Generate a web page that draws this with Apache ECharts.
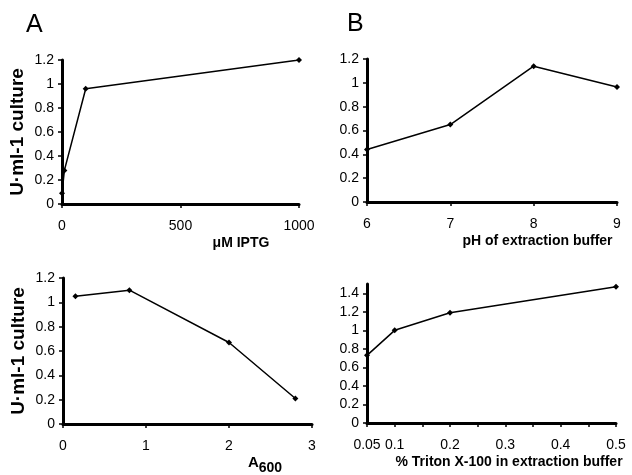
<!DOCTYPE html>
<html>
<head>
<meta charset="utf-8">
<script src="https://cdn.jsdelivr.net/npm/echarts@6/dist/echarts.min.js"></script>
<style>html,body{margin:0;padding:0;background:#fff}#c{width:632px;height:475px}</style>
</head>
<body>
<div id="c"></div>
<script>
// Panel A: IPTG concentration
const iptgX = [0, 10, 100, 1000];
const iptgY = [0.09, 0.28, 0.96, 1.2];
// Panel B: pH
const phX = [6, 7, 8, 9];
const phY = [0.44, 0.65, 1.14, 0.965];
// Panel C: A600
const a600X = [0.15, 0.8, 2.0, 2.8];
const a600Y = [1.05, 1.1, 0.67, 0.21];
// Panel D: Triton X-100
const tritonX = [0.05, 0.1, 0.2, 0.5];
const tritonY = [0.73, 1.0, 1.19, 1.47];
// tick labels
const tritonXLabels = [0.05, 0.1, 0.2, 0.3, 0.4, 0.5];
const tritonXTicks = [0.05, 0.1, 0.15, 0.2, 0.25, 0.3, 0.35, 0.4, 0.45, 0.5];
const tritonYTicks = [0, 0.2, 0.4, 0.6, 0.8, 1.0, 1.2, 1.4];

const FONT = 'Liberation Sans, Arial, sans-serif';
const axisLine = {show: true, onZero: false, lineStyle: {color: '#000', width: 3}};
const axisTick = {show: true, length: 4, lineStyle: {color: '#000', width: 1.5}};
const lab = {color: '#000', fontSize: 14, fontFamily: FONT, formatter: (v) => String(v)};
const nameStyle = (pad) => ({color: '#000', fontSize: 14, fontWeight: 'bold', fontFamily: FONT, padding: [0, 0, 0, pad]});
const yName = 'U·ml-1 culture';
const yNameStyle = {color: '#000', fontSize: 19, fontWeight: 'bold', fontFamily: FONT};

function xAxis(i, min, max, interval, name, pad, extra) {
  return Object.assign({
    type: 'value', gridIndex: i, min: min, max: max, interval: interval,
    axisLine: axisLine, axisTick: axisTick, splitLine: {show: false},
    axisLabel: Object.assign({margin: 15}, lab),
    name: name, nameLocation: 'middle', nameGap: 32, nameTextStyle: nameStyle(pad)
  }, extra || {});
}
function yAxis(i, max, name, extra) {
  return Object.assign({
    type: 'value', gridIndex: i, min: 0, max: max, interval: 0.2,
    axisLine: axisLine, axisTick: axisTick, splitLine: {show: false},
    axisLabel: Object.assign({margin: 8}, lab),
    name: name, nameLocation: 'middle', nameGap: 35, nameTextStyle: yNameStyle
  }, extra || {});
}
function series(i, xs, ys) {
  return {
    type: 'line', xAxisIndex: i, yAxisIndex: i,
    data: xs.map((x, k) => [x, ys[k]]),
    symbol: 'diamond', symbolSize: 6, showSymbol: true,
    lineStyle: {color: '#000', width: 1.5}, itemStyle: {color: '#000'},
    animation: false, silent: true
  };
}

const chart = echarts.init(document.getElementById('c'), null, {renderer: 'canvas'});
chart.setOption({
  backgroundColor: '#fff',
  animation: false,
  title: [
    {text: 'A', left: 21, top: 8, textStyle: {fontSize: 25, fontWeight: 'normal', color: '#000', fontFamily: FONT}},
    {text: 'B', left: 342, top: 7, textStyle: {fontSize: 25, fontWeight: 'normal', color: '#000', fontFamily: FONT}}
  ],
  grid: [
    {left: 62, top: 60, width: 237, height: 144, outerBoundsMode: 'none'},
    {left: 367, top: 59, width: 250, height: 143, outerBoundsMode: 'none'},
    {left: 63, top: 278, width: 249, height: 146, outerBoundsMode: 'none'},
    {left: 367, top: 284, width: 249, height: 139, outerBoundsMode: 'none'}
  ],
  xAxis: [
    xAxis(0, 0, 1000, 500, 'μM IPTG', 121),
    xAxis(1, 6, 9, 1, 'pH of extraction buffer', 91),
    xAxis(2, 0, 3, 1, '{a|A}{s|600}', 155, {
      nameTextStyle: {color: '#000', fontSize: 15, fontFamily: FONT, fontWeight: 'bold', padding: [0, 0, 0, 155],
        rich: {a: {fontSize: 15, fontWeight: 'bold', fontFamily: FONT, color: '#000', lineHeight: 16, verticalAlign: 'top'},
               s: {fontSize: 14, fontWeight: 'bold', fontFamily: FONT, color: '#000', lineHeight: 20, verticalAlign: 'bottom'}}},
      nameGap: 31
    }),
    xAxis(3, 0.05, 0.5, 0.05, '% Triton X-100 in extraction buffer', 35, {
      axisLabel: Object.assign({margin: 15, customValues: tritonXLabels}, lab),
      axisTick: Object.assign({customValues: tritonXTicks}, axisTick)
    })
  ],
  yAxis: [
    yAxis(0, 1.2, yName),
    yAxis(1, 1.2, ''),
    yAxis(2, 1.2, yName),
    yAxis(3, 1.5, '', {
      axisLabel: Object.assign({margin: 8, customValues: tritonYTicks}, lab),
      axisTick: Object.assign({customValues: tritonYTicks}, axisTick)
    })
  ],
  series: [
    series(0, iptgX, iptgY),
    series(1, phX, phY),
    series(2, a600X, a600Y),
    series(3, tritonX, tritonY)
  ]
});
</script>
</body>
</html>
